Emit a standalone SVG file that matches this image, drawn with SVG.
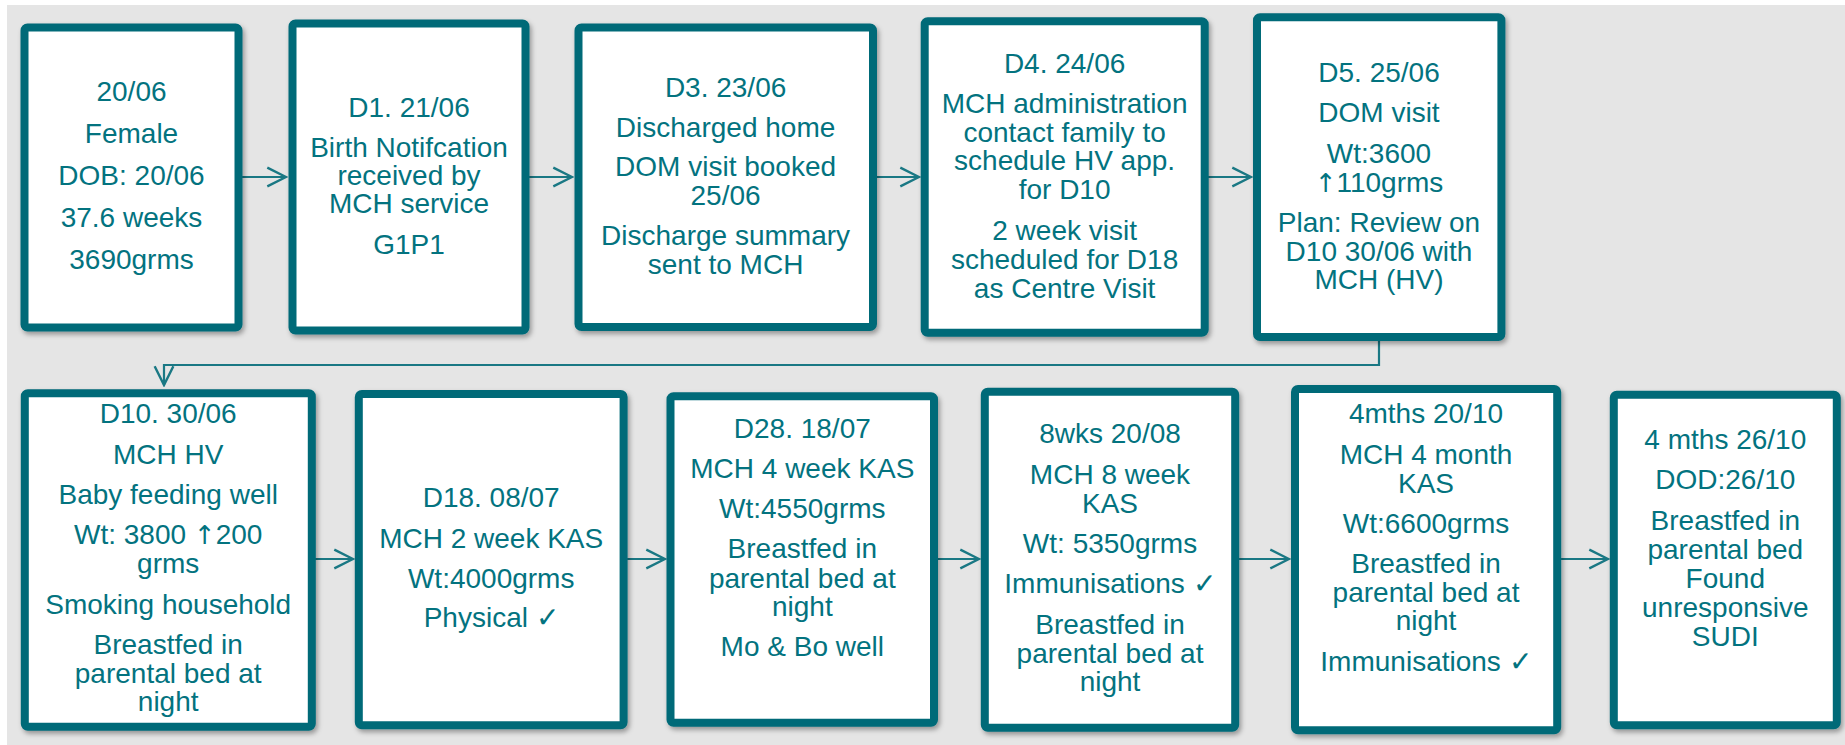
<svg xmlns="http://www.w3.org/2000/svg" width="1845" height="745" viewBox="0 0 1845 745">
<defs>
<style>
.box{fill:#ffffff;stroke:#016A78;stroke-width:8;filter:url(#sh)}
.t{font-family:"Liberation Sans",Arial,sans-serif;font-size:28px;fill:#03737F;text-anchor:middle}
.ar{font-family:"DejaVu Sans",sans-serif;font-size:26px}
.c{fill:none;stroke:#1A7884;stroke-width:2.2}
</style>
<filter id="sh" x="-10%" y="-10%" width="125%" height="125%">
<feDropShadow dx="2" dy="3" stdDeviation="2.5" flood-color="#000" flood-opacity="0.35"/>
</filter>
<marker id="ah" markerUnits="userSpaceOnUse" markerWidth="22" markerHeight="22" viewBox="0 0 20 20" refX="18" refY="10" orient="auto">
<path d="M1,1.5 L18,10 L1,18.5" fill="none" stroke="#1A7884" stroke-width="2.2"/>
</marker>
</defs>
<rect x="0" y="0" width="1845" height="745" fill="#ffffff"/>
<rect x="7" y="5" width="1838" height="740" fill="#E5E5E5"/>

<g id="connectors">
<path class="c" d="M242,177 H286" marker-end="url(#ah)"/>
<path class="c" d="M529,177 H572" marker-end="url(#ah)"/>
<path class="c" d="M877,177 H919" marker-end="url(#ah)"/>
<path class="c" d="M1208,177 H1251" marker-end="url(#ah)"/>
<path class="c" d="M1379,341 V365 H164 V385" marker-end="url(#ah)"/>
<path class="c" d="M315,559 H353" marker-end="url(#ah)"/>
<path class="c" d="M627,559 H665" marker-end="url(#ah)"/>
<path class="c" d="M938,559 H979" marker-end="url(#ah)"/>
<path class="c" d="M1239,559 H1289" marker-end="url(#ah)"/>
<path class="c" d="M1561,559 H1608" marker-end="url(#ah)"/>
</g>

<g id="n1">
<rect class="box" x="24.5" y="27.5" width="214" height="300" rx="3"/>
<text class="t" x="131.5" y="101">20/06</text>
<text class="t" x="131.5" y="143">Female</text>
<text class="t" x="131.5" y="185">DOB: 20/06</text>
<text class="t" x="131.5" y="227">37.6 weeks</text>
<text class="t" x="131.5" y="269">3690grms</text>
</g>

<g id="n2">
<rect class="box" x="292.5" y="23.5" width="233" height="307" rx="3"/>
<text class="t" x="409" y="117">D1. 21/06</text>
<text class="t" x="409" y="157">Birth Notifcation</text>
<text class="t" x="409" y="185">received by</text>
<text class="t" x="409" y="213">MCH service</text>
<text class="t" x="409" y="254">G1P1</text>
</g>

<g id="n3">
<rect class="box" x="578.5" y="27.5" width="294.5" height="299.5" rx="3"/>
<text class="t" x="725.6" y="97">D3. 23/06</text>
<text class="t" x="725.6" y="137">Discharged home</text>
<text class="t" x="725.6" y="176">DOM visit booked</text>
<text class="t" x="725.6" y="205">25/06</text>
<text class="t" x="725.6" y="245">Discharge summary</text>
<text class="t" x="725.6" y="274">sent to MCH</text>
</g>

<g id="n4">
<rect class="box" x="924.7" y="21.3" width="280" height="311.4" rx="3"/>
<text class="t" x="1064.6" y="73">D4. 24/06</text>
<text class="t" x="1064.6" y="113">MCH administration</text>
<text class="t" x="1064.6" y="142">contact family to</text>
<text class="t" x="1064.6" y="170">schedule HV app.</text>
<text class="t" x="1064.6" y="199">for D10</text>
<text class="t" x="1064.6" y="240">2 week visit</text>
<text class="t" x="1064.6" y="269">scheduled for D18</text>
<text class="t" x="1064.6" y="298">as Centre Visit</text>
</g>

<g id="n5">
<rect class="box" x="1257" y="17.3" width="244.4" height="319.7" rx="3"/>
<text class="t" x="1379" y="82">D5. 25/06</text>
<text class="t" x="1379" y="122">DOM visit</text>
<text class="t" x="1379" y="163">Wt:3600</text>
<text class="t" x="1379" y="192"><tspan class="ar">↑</tspan>110grms</text>
<text class="t" x="1379" y="232">Plan: Review on</text>
<text class="t" x="1379" y="261">D10 30/06 with</text>
<text class="t" x="1379" y="289">MCH (HV)</text>
</g>

<g id="n6">
<rect class="box" x="24.8" y="393.3" width="287" height="333.4" rx="3"/>
<text class="t" x="168.2" y="423">D10. 30/06</text>
<text class="t" x="168.2" y="464">MCH HV</text>
<text class="t" x="168.2" y="504">Baby feeding well</text>
<text class="t" x="168.2" y="544">Wt: 3800 <tspan class="ar">↑</tspan>200</text>
<text class="t" x="168.2" y="573">grms</text>
<text class="t" x="168.2" y="614">Smoking household</text>
<text class="t" x="168.2" y="654">Breastfed in</text>
<text class="t" x="168.2" y="683">parental bed at</text>
<text class="t" x="168.2" y="711">night</text>
</g>

<g id="n7">
<rect class="box" x="358.8" y="394" width="264.8" height="331.3" rx="3"/>
<text class="t" x="491.2" y="507">D18. 08/07</text>
<text class="t" x="491.2" y="548">MCH 2 week KAS</text>
<text class="t" x="491.2" y="588">Wt:4000grms</text>
<text class="t" x="491.2" y="627">Physical ✓</text>
</g>

<g id="n8">
<rect class="box" x="670.5" y="396.3" width="263.5" height="326.4" rx="3"/>
<text class="t" x="802.3" y="438">D28. 18/07</text>
<text class="t" x="802.3" y="478">MCH 4 week KAS</text>
<text class="t" x="802.3" y="518">Wt:4550grms</text>
<text class="t" x="802.3" y="558">Breastfed in</text>
<text class="t" x="802.3" y="588">parental bed at</text>
<text class="t" x="802.3" y="616">night</text>
<text class="t" x="802.3" y="656">Mo &amp; Bo well</text>
</g>

<g id="n9">
<rect class="box" x="984.8" y="391.7" width="250.4" height="336" rx="3"/>
<text class="t" x="1110" y="443">8wks 20/08</text>
<text class="t" x="1110" y="484">MCH 8 week</text>
<text class="t" x="1110" y="513">KAS</text>
<text class="t" x="1110" y="553">Wt: 5350grms</text>
<text class="t" x="1110" y="593">Immunisations ✓</text>
<text class="t" x="1110" y="634">Breastfed in</text>
<text class="t" x="1110" y="663">parental bed at</text>
<text class="t" x="1110" y="691">night</text>
</g>

<g id="n10">
<rect class="box" x="1295" y="389" width="262.2" height="341.3" rx="3"/>
<text class="t" x="1426" y="423">4mths 20/10</text>
<text class="t" x="1426" y="464">MCH 4 month</text>
<text class="t" x="1426" y="493">KAS</text>
<text class="t" x="1426" y="533">Wt:6600grms</text>
<text class="t" x="1426" y="573">Breastfed in</text>
<text class="t" x="1426" y="602">parental bed at</text>
<text class="t" x="1426" y="630">night</text>
<text class="t" x="1426" y="671">Immunisations ✓</text>
</g>

<g id="n11">
<rect class="box" x="1613.8" y="394.7" width="223" height="330.6" rx="3"/>
<text class="t" x="1725.3" y="449">4 mths 26/10</text>
<text class="t" x="1725.3" y="489">DOD:26/10</text>
<text class="t" x="1725.3" y="530">Breastfed in</text>
<text class="t" x="1725.3" y="559">parental bed</text>
<text class="t" x="1725.3" y="588">Found</text>
<text class="t" x="1725.3" y="617">unresponsive</text>
<text class="t" x="1725.3" y="646">SUDI</text>
</g>
</svg>
